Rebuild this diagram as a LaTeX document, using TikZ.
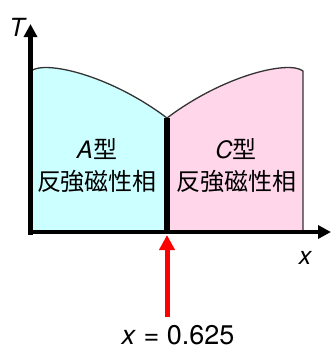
\documentclass[tikz,border=0pt]{standalone}
\usepackage{fontspec}
\usepackage{xcolor}
\usepackage{tikz}
\setsansfont{TeX Gyre Heros}
\newfontfamily\jpfont{Noto Sans CJK JP}
\usetikzlibrary{arrows.meta}
\definecolor{phaseA}{RGB}{204,255,255}
\definecolor{phaseC}{RGB}{255,214,234}

\begin{document}
\begin{tikzpicture}[x=1pt,y=-1pt,
		axis/.style={line width=4.5pt,-{Triangle[length=13pt,width=13pt]}},
		lbl/.style={font=\fontsize{24}{32}\selectfont\sffamily,align=center,inner sep=0pt}]
		\useasboundingbox (0,0) rectangle (331,351);
		% two phases
		\fill[phaseA] (31,232) -- (31,71) .. controls (45,60) and (110,75) .. (167,118) -- (167,232) -- cycle;
		\fill[phaseC] (167,232) -- (167,118) .. controls (224,75) and (289,60) .. (303,71) -- (303,232) -- cycle;
		\draw[line width=1.3pt,black!80] (31,71) .. controls (45,60) and (110,75) .. (167,118)
			.. controls (224,75) and (289,60) .. (303,71) -- (303,232);
		\coordinate (meet) at (167,118);
		\coordinate (foot) at (167,232);
		\draw[line width=6pt] (meet) -- (foot);
		% axes
		\coordinate (ybot) at (30.5,234.5);
		\coordinate (ytop) at (30.5,24);
		\coordinate (xleft) at (28,232);
		\coordinate (xright) at (331,232);
		\draw[axis] (ybot) -- (ytop);
		\draw[axis] (xleft) -- (xright);
		\node[lbl,font=\fontsize{25}{32}\selectfont\sffamily\itshape] (tlabel) at (17,27) {T};
		\node[lbl,font=\fontsize{25}{32}\selectfont\sffamily\itshape] (xlabel) at (305,258) {x};
		\node[lbl] (atype) at (97,166) {\textit{A}{\jpfont 型}\\{\jpfont 反強磁性相}};
		\node[lbl] (ctype) at (236,166) {\textit{C}{\jpfont 型}\\{\jpfont 反強磁性相}};
		% critical concentration
		\node[lbl,font=\fontsize{27}{32}\selectfont\sffamily] (xval) at (178,335) {\textit{x} = 0.625};
		\coordinate (tail) at (167,317);
		\coordinate (tip) at (167,235);
		\draw[red,line width=5pt,-{Triangle[length=15pt,width=15pt]}] (tail) -- (tip);
	\end{tikzpicture}
\end{document}
